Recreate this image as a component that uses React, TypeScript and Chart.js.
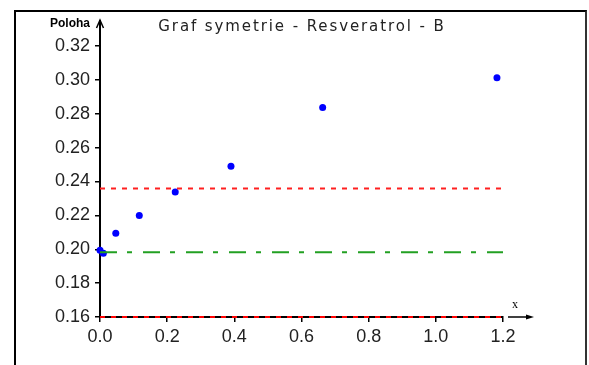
import React, { useEffect, useRef } from "react";
import { Chart, registerables } from "chart.js";

Chart.register(...registerables);

// Data points (x, Poloha)
const pointX = [0.0, 0.01, 0.047, 0.117, 0.224, 0.39, 0.663, 1.182];
const pointY = [0.1994, 0.1976, 0.2095, 0.22, 0.2338, 0.249, 0.2837, 0.3013];

// Horizontal reference lines
const redLevel = 0.2358;
const greenLevel = 0.1983;
const baseLevel = 0.16;
const lineSpan = [0, 1.2];

// Axis ticks
const xTicks = [0, 0.2, 0.4, 0.6, 0.8, 1.0, 1.2];
const yTicks = [0.16, 0.18, 0.2, 0.22, 0.24, 0.26, 0.28, 0.3, 0.32];

const titleText = "Graf symetrie - Resveratrol - B";
const yAxisTitle = "Poloha";
const xAxisTitle = "x";

const FONT = "'Liberation Sans', Arial, sans-serif";

const decorPlugin = {
  id: "decor",
  afterDraw(chart: any) {
    const ctx = chart.ctx as CanvasRenderingContext2D;
    const xs = chart.scales.x;
    const ys = chart.scales.y;
    const x0 = xs.getPixelForValue(0);
    const yTop = ys.getPixelForValue(yTicks[yTicks.length - 1]);
    const yBase = ys.getPixelForValue(yTicks[0]);
    const xEnd = xs.getPixelForValue(xTicks[xTicks.length - 1]);
    ctx.save();
    ctx.strokeStyle = "#000";
    ctx.fillStyle = "#000";
    ctx.lineWidth = 2;
    // y-axis extension + open arrowhead
    ctx.beginPath();
    ctx.moveTo(x0, yTop);
    ctx.lineTo(x0, 20);
    ctx.stroke();
    ctx.lineWidth = 1.5;
    ctx.beginPath();
    ctx.moveTo(x0 - 3.5, 28);
    ctx.lineTo(x0, 20);
    ctx.lineTo(x0 + 3.5, 28);
    ctx.stroke();
    // x-axis arrow
    ctx.lineWidth = 1.5;
    ctx.beginPath();
    ctx.moveTo(xEnd + 5, yBase);
    ctx.lineTo(xEnd + 25, yBase);
    ctx.stroke();
    ctx.beginPath();
    ctx.moveTo(xEnd + 23, yBase - 2.5);
    ctx.lineTo(xEnd + 31, yBase);
    ctx.lineTo(xEnd + 23, yBase + 2.5);
    ctx.closePath();
    ctx.fill();
    // title
    ctx.fillStyle = "#222";
    ctx.font = `15px 'DejaVu Sans', sans-serif`;
    (ctx as any).letterSpacing = "1.9px";
    ctx.textAlign = "center";
    ctx.textBaseline = "alphabetic";
    ctx.fillText(titleText, 302, 31);
    (ctx as any).letterSpacing = "0px";
    // y axis title
    ctx.fillStyle = "#000";
    ctx.font = `bold 12px ${FONT}`;
    ctx.textAlign = "left";
    ctx.fillText(yAxisTitle, 50, 27);
    // x axis title
    ctx.font = `12px 'Liberation Serif', 'Times New Roman', serif`;
    ctx.fillText(xAxisTitle, 512, 308);
    ctx.restore();
  },
};

export default function App() {
  const ref = useRef<HTMLCanvasElement | null>(null);
  useEffect(() => {
    if (!ref.current) return;
    const hline = (level: number, color: string, dash: number[]) => ({
      type: "line" as const,
      data: lineSpan.map((x) => ({ x, y: level })),
      borderColor: color,
      borderWidth: 2,
      borderDash: dash,
      pointRadius: 0,
      fill: false,
      clip: false as any,
    });
    const chart = new Chart(ref.current, {
      type: "scatter",
      data: {
        datasets: [
          hline(baseLevel, "#ff0000", [5, 6]),
          hline(greenLevel, "#22a022", [17, 10, 5, 11]),
          hline(redLevel, "#ff2020", [5, 6]),
          {
            type: "scatter",
            data: pointX.map((x, i) => ({ x, y: pointY[i] })),
            backgroundColor: "#0000ff",
            borderWidth: 0,
            pointRadius: 3.5,
            clip: false as any,
          } as any,
        ],
      },
      options: {
        responsive: false,
        animation: false,
        events: [],
        layout: { padding: { left: 0, right: 86, top: 46, bottom: 0 } },
        plugins: {
          legend: { display: false },
          title: { display: false },
          tooltip: { enabled: false },
        },
        scales: {
          x: {
            type: "linear",
            min: 0,
            max: 1.2,
            afterBuildTicks: (s: any) => {
              s.ticks = xTicks.map((v) => ({ value: v }));
            },
            afterFit: (s: any) => {
              s.height = 48;
            },
            grid: {
              drawOnChartArea: false,
              drawTicks: true,
              tickLength: 5,
              color: "#000",
              lineWidth: 1.5,
            },
            border: { display: true, color: "#000", width: 2 },
            ticks: {
              color: "#222",
              padding: 4,
              maxRotation: 0,
              font: { size: 18, family: FONT },
              callback: (v: any) => Number(v).toFixed(1),
            },
          },
          y: {
            type: "linear",
            min: 0.16,
            max: 0.32,
            afterBuildTicks: (s: any) => {
              s.ticks = yTicks.map((v) => ({ value: v }));
            },
            afterFit: (s: any) => {
              s.width = 100;
            },
            grid: {
              drawOnChartArea: false,
              drawTicks: true,
              tickLength: 5,
              color: "#000",
              lineWidth: 1.5,
            },
            border: { display: true, color: "#000", width: 2 },
            ticks: {
              color: "#222",
              padding: 5,
              font: { size: 18, family: FONT },
              callback: (v: any) => Number(v).toFixed(2),
            },
          },
        },
      },
      plugins: [decorPlugin],
    });
    return () => chart.destroy();
  }, []);

  return (
    <div
      style={{
        position: "fixed",
        left: 0,
        top: 0,
        width: 589,
        height: 365,
        overflow: "hidden",
        background: "#fff",
      }}
    >
      <div
        style={{
          position: "absolute",
          left: 14,
          top: 10,
          width: 569,
          height: 400,
          borderLeft: "2px solid #000",
          borderTop: "2px solid #000",
          borderRight: "2px solid #333",
        }}
      />
      <canvas
        ref={ref}
        width={589}
        height={365}
        style={{ position: "absolute", left: 0, top: 0, width: 589, height: 365 }}
      />
    </div>
  );
}
